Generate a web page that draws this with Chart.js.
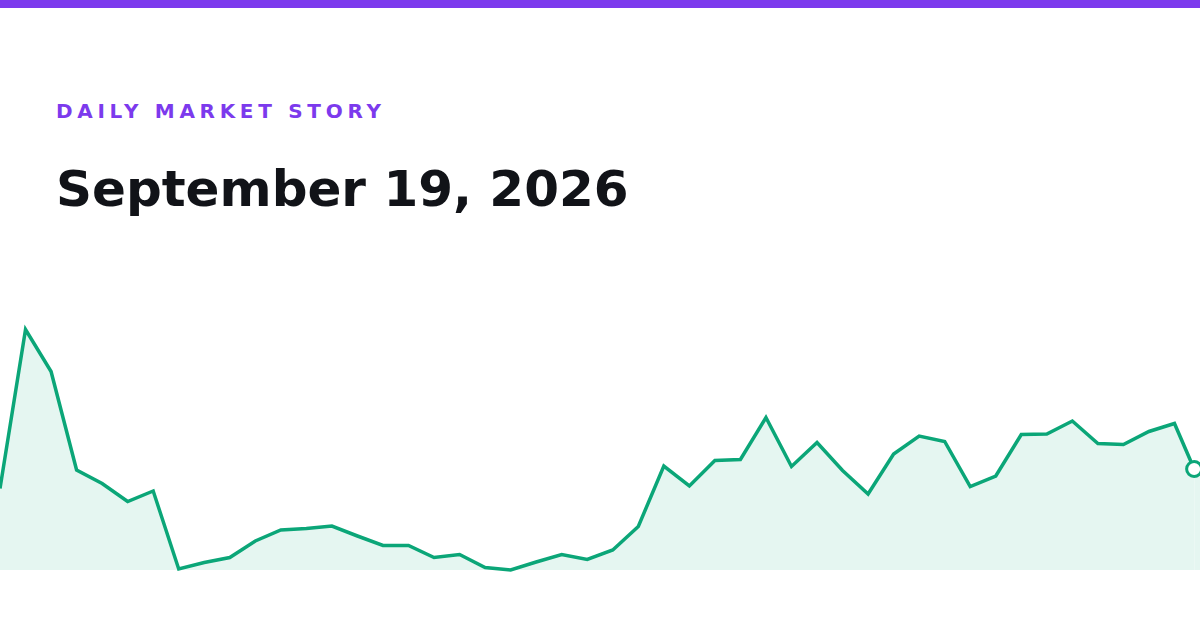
<!DOCTYPE html>
<html>
<head>
<meta charset="utf-8">
<script src="https://cdn.jsdelivr.net/npm/chart.js@4"></script>
<style>
  html, body { margin: 0; padding: 0; background: #ffffff; }
  body { width: 1200px; height: 630px; position: relative; overflow: hidden; font-family: "DejaVu Sans", sans-serif; }
  #bar { position: absolute; left: 0; top: 0; width: 1200px; height: 8px; background: #7c3aed; }
  #kicker { position: absolute; left: 56px; top: 101px; font-size: 20px; line-height: 1; font-weight: bold; letter-spacing: 4.7px; color: #7c3aed; white-space: nowrap; }
  #title { position: absolute; left: 56px; top: 164px; font-size: 50px; line-height: 1; font-weight: bold; color: #111318; white-space: nowrap; }
  #wrap { position: absolute; left: 0; top: 300px; width: 1200px; height: 300px; }
</style>
</head>
<body>
<div id="bar"></div>
<div id="kicker">DAILY MARKET STORY</div>
<div id="title">September 19, 2026</div>
<div id="wrap"><canvas id="c"></canvas></div>
<script>
// Session positions (last point is a partial, intraday reading)
const positions = [0,1,2,3,4,5,6,7,8,9,10,11,12,13,14,15,16,17,18,19,20,21,22,23,24,25,26,27,28,29,30,31,32,33,34,35,36,37,38,39,40,41,42,43,44,45,46,46.77];
// Price values
const prices = [116.3,148.1,139.7,120.0,117.3,113.7,115.8,100.2,101.5,102.5,105.8,108.0,108.3,108.8,106.8,104.9,104.9,102.5,103.1,100.5,100.0,101.6,103.1,102.1,104.0,108.7,120.8,116.8,121.9,122.1,130.5,120.7,125.5,119.9,115.2,123.2,126.8,125.7,116.7,118.8,127.1,127.2,129.8,125.3,125.1,127.7,129.3,120.2];
const fillBase = 100;
const yMin = 94, yMax = 154;
const xMin = 0, xMax = 47;

const points = prices.map((v, i) => ({ x: positions[i], y: v }));
const lastIdx = prices.length - 1;
// shaded area carried from the latest reading to the right edge of the window
const tailPoints = [points[lastIdx], { x: xMax, y: prices[lastIdx] }];

const GREEN = '#0ba678';
const FILL = 'rgba(11,166,120,0.105)';

new Chart(document.getElementById('c'), {
  type: 'line',
  data: {
    datasets: [{
      data: tailPoints,
      borderWidth: 0,
      borderColor: 'rgba(0,0,0,0)',
      backgroundColor: FILL,
      fill: { value: fillBase },
      pointRadius: 0,
      order: 2
    }, {
      data: points,
      borderColor: GREEN,
      borderWidth: 3.5,
      backgroundColor: FILL,
      fill: { value: fillBase },
      tension: 0,
      clip: 10,
      pointRadius: prices.map((v, i) => i === lastIdx ? 7.5 : 0),
      pointBackgroundColor: '#ffffff',
      pointBorderColor: GREEN,
      pointBorderWidth: 3,
      borderJoinStyle: 'miter',
      order: 1
    }]
  },
  options: {
    responsive: true,
    maintainAspectRatio: false,
    animation: false,
    layout: { padding: 0, autoPadding: false },
    plugins: { legend: { display: false }, tooltip: { enabled: false } },
    scales: {
      x: { type: 'linear', min: xMin, max: xMax, display: false },
      y: { min: yMin, max: yMax, display: false }
    }
  }
});
</script>
</body>
</html>
